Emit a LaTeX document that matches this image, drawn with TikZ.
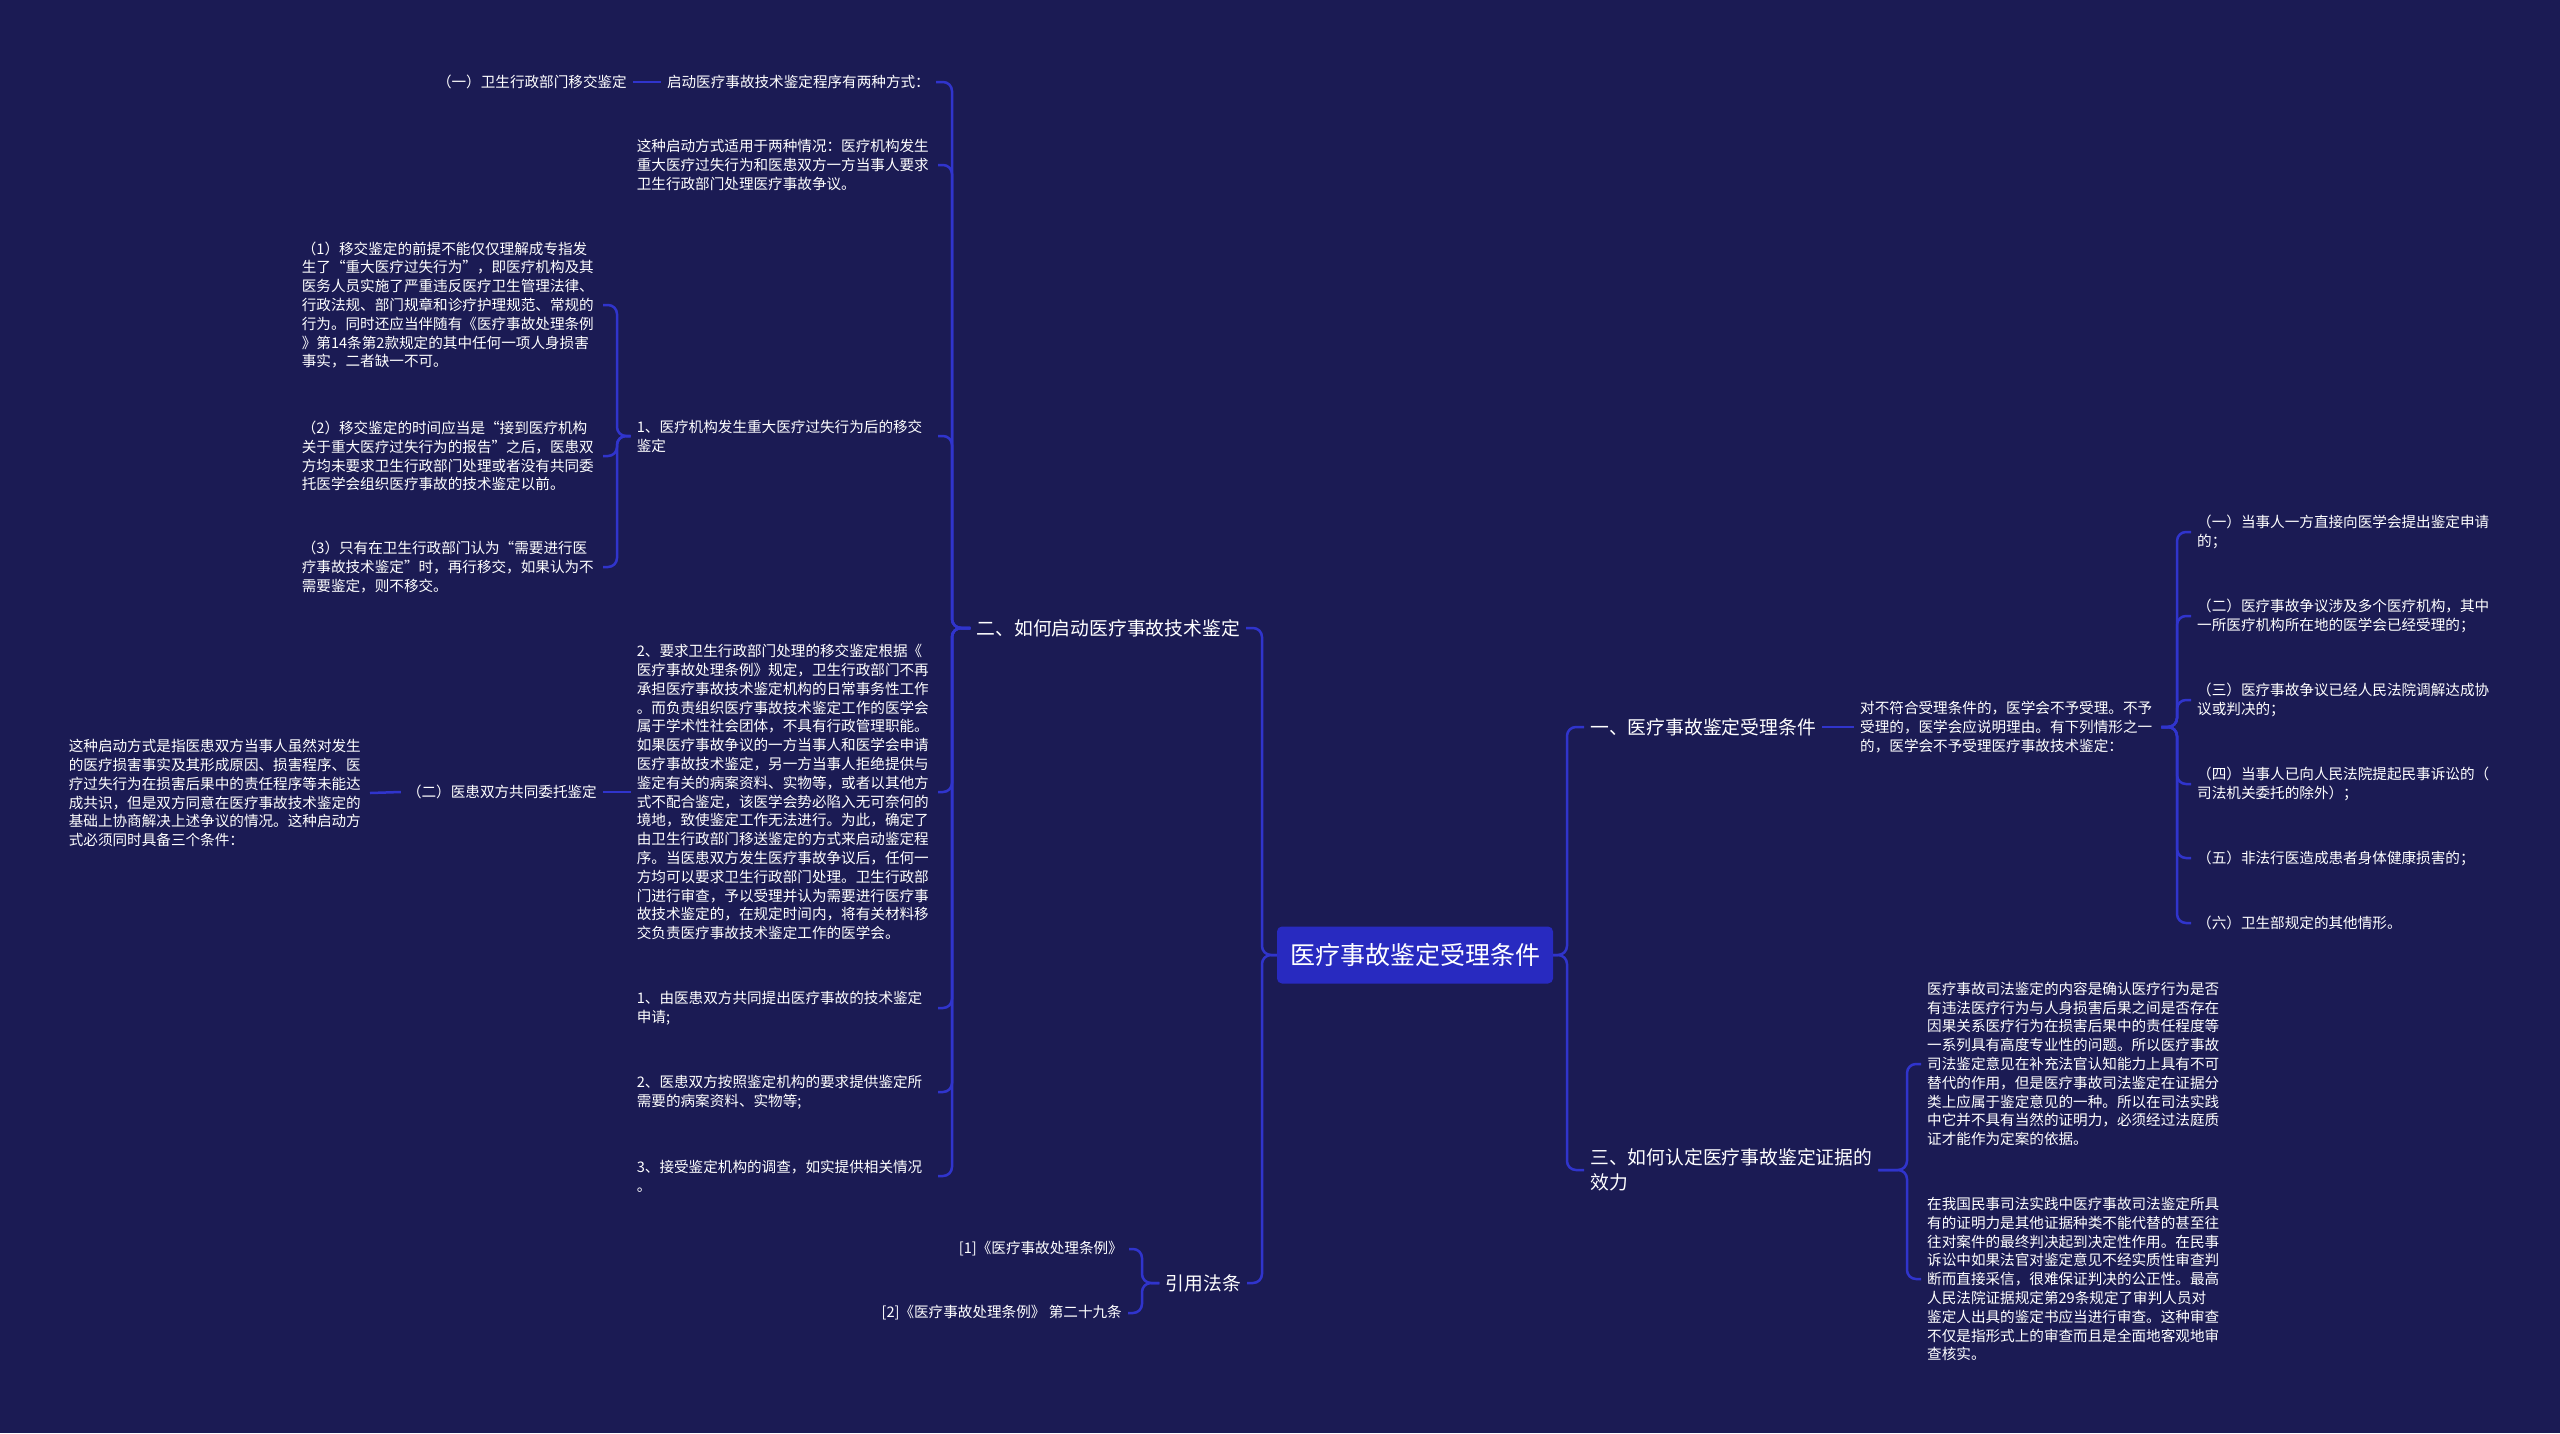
\documentclass[tikz,border=0pt]{standalone}
\usepackage{fontspec}
\setmainfont{Noto Sans CJK SC}
\definecolor{mapbg}{RGB}{27,27,84}
\definecolor{mapblue}{RGB}{40,42,192}
\definecolor{mapline}{RGB}{48,52,204}
\usetikzlibrary{positioning}

\begin{document}
\begin{tikzpicture}[x=1pt, y=-1pt,
    root/.style={rectangle, rounded corners=5pt, fill=mapblue, text=white,
                 minimum width=276pt, minimum height=57pt,
                 font=\fontsize{25}{30}\selectfont},
    topic/.style={rectangle, inner xsep=6pt, inner ysep=2pt, text=white,
                  align=left, font=\fontsize{18.8}{25}\selectfont},
    leaf/.style={rectangle, inner xsep=6pt, inner ysep=2pt, text=white,
                 align=left, font=\fontsize{14.6}{18.8}\selectfont},
    para/.style={leaf, text width=295pt},
    link/.style={draw=mapline, line width=2.5pt, rounded corners=9pt}
  ]
    % Background
    \fill[mapbg] (0,0) rectangle (2560,1433);
    \useasboundingbox (0,0) rectangle (2560,1433);

    % Root
    \node[root] (root) at (1415,955) {医疗事故鉴定受理条件};

    % Right: 一
    \node[topic, anchor=west] (b1) at (1584,727) {一、医疗事故鉴定受理条件};
    \node[para, anchor=west]  (p1) at (1854,727) {对不符合受理条件的，医学会不予受理。不予\\受理的，医学会应说明理由。有下列情形之一\\的，医学会不予受理医疗事故技术鉴定：};
    \node[leaf, anchor=west]  (r1) at (2191,532) {（一）当事人一方直接向医学会提出鉴定申请\\的；};
    \node[leaf, anchor=west]  (r2) at (2191,616) {（二）医疗事故争议涉及多个医疗机构，其中\\一所医疗机构所在地的医学会已经受理的；};
    \node[leaf, anchor=west]  (r3) at (2191,700) {（三）医疗事故争议已经人民法院调解达成协\\议或判决的；};
    \node[leaf, anchor=west]  (r4) at (2191,784) {（四）当事人已向人民法院提起民事诉讼的（\\司法机关委托的除外）；};
    \node[leaf, anchor=west]  (r5) at (2191,858) {（五）非法行医造成患者身体健康损害的；};
    \node[leaf, anchor=west]  (r6) at (2191,923) {（六）卫生部规定的其他情形。};

    % Right: 三
    \node[topic, anchor=west] (b3) at (1584,1170) {三、如何认定医疗事故鉴定证据的\\效力};
    \node[para, anchor=west]  (q1) at (1921,1064) {医疗事故司法鉴定的内容是确认医疗行为是否\\有违法医疗行为与人身损害后果之间是否存在\\因果关系医疗行为在损害后果中的责任程度等\\一系列具有高度专业性的问题。所以医疗事故\\司法鉴定意见在补充法官认知能力上具有不可\\替代的作用，但是医疗事故司法鉴定在证据分\\类上应属于鉴定意见的一种。所以在司法实践\\中它并不具有当然的证明力，必须经过法庭质\\证才能作为定案的依据。};
    \node[para, anchor=west]  (q2) at (1921,1279) {在我国民事司法实践中医疗事故司法鉴定所具\\有的证明力是其他证据种类不能代替的甚至往\\往对案件的最终判决起到决定性作用。在民事\\诉讼中如果法官对鉴定意见不经实质性审查判\\断而直接采信，很难保证判决的公正性。最高\\人民法院证据规定第29条规定了审判人员对\\鉴定人出具的鉴定书应当进行审查。这种审查\\不仅是指形式上的审查而且是全面地客观地审\\查核实。};

    % Left: 二
    \node[topic, anchor=east] (b2) at (1246,628) {二、如何启动医疗事故技术鉴定};
    \node[leaf, anchor=east]  (l1) at (936,82)   {启动医疗事故技术鉴定程序有两种方式：};
    \node[leaf, anchor=east]  (s1) at (633,82)   {（一）卫生行政部门移交鉴定};
    \node[para, anchor=east]  (l2) at (938,165)  {这种启动方式适用于两种情况：医疗机构发生\\重大医疗过失行为和医患双方一方当事人要求\\卫生行政部门处理医疗事故争议。};
    \node[para, anchor=east]  (l3) at (938,436)  {1、医疗机构发生重大医疗过失行为后的移交\\鉴定};
    \node[para, anchor=east]  (t1) at (603,305)  {（1）移交鉴定的前提不能仅仅理解成专指发\\生了“重大医疗过失行为”，即医疗机构及其\\医务人员实施了严重违反医疗卫生管理法律、\\行政法规、部门规章和诊疗护理规范、常规的\\行为。同时还应当伴随有《医疗事故处理条例\\》第14条第2款规定的其中任何一项人身损害\\事实，二者缺一不可。};
    \node[para, anchor=east]  (t2) at (603,456)  {（2）移交鉴定的时间应当是“接到医疗机构\\关于重大医疗过失行为的报告”之后，医患双\\方均未要求卫生行政部门处理或者没有共同委\\托医学会组织医疗事故的技术鉴定以前。};
    \node[para, anchor=east]  (t3) at (603,567)  {（3）只有在卫生行政部门认为“需要进行医\\疗事故技术鉴定”时，再行移交，如果认为不\\需要鉴定，则不移交。};
    \node[para, anchor=east]  (l4) at (938,792)  {2、要求卫生行政部门处理的移交鉴定根据《\\医疗事故处理条例》规定，卫生行政部门不再\\承担医疗事故技术鉴定机构的日常事务性工作\\。而负责组织医疗事故技术鉴定工作的医学会\\属于学术性社会团体，不具有行政管理职能。\\如果医疗事故争议的一方当事人和医学会申请\\医疗事故技术鉴定，另一方当事人拒绝提供与\\鉴定有关的病案资料、实物等，或者以其他方\\式不配合鉴定，该医学会势必陷入无可奈何的\\境地，致使鉴定工作无法进行。为此，确定了\\由卫生行政部门移送鉴定的方式来启动鉴定程\\序。当医患双方发生医疗事故争议后，任何一\\方均可以要求卫生行政部门处理。卫生行政部\\门进行审查，予以受理并认为需要进行医疗事\\故技术鉴定的，在规定时间内，将有关材料移\\交负责医疗事故技术鉴定工作的医学会。};
    \node[leaf, anchor=east]  (s2) at (603,792)  {（二）医患双方共同委托鉴定};
    \node[para, anchor=east]  (u1) at (370,793)  {这种启动方式是指医患双方当事人虽然对发生\\的医疗损害事实及其形成原因、损害程序、医\\疗过失行为在损害后果中的责任程序等未能达\\成共识，但是双方同意在医疗事故技术鉴定的\\基础上协商解决上述争议的情况。这种启动方\\式必须同时具备三个条件：};
    \node[para, anchor=east]  (l5) at (938,1008) {1、由医患双方共同提出医疗事故的技术鉴定\\申请;};
    \node[para, anchor=east]  (l6) at (938,1092) {2、医患双方按照鉴定机构的要求提供鉴定所\\需要的病案资料、实物等;};
    \node[para, anchor=east]  (l7) at (938,1176) {3、接受鉴定机构的调查，如实提供相关情况\\。};

    % Left: 引用法条
    \node[topic, anchor=east] (b4) at (1247,1283) {引用法条};
    \node[leaf, anchor=east]  (v1) at (1129,1249) {[1]《医疗事故处理条例》};
    \node[leaf, anchor=east]  (v2) at (1128,1313) {[2]《医疗事故处理条例》 第二十九条};

    % Bend points
    \coordinate (kR) at (1567,955);
    \coordinate (kL) at (1262,955);
    \coordinate (k1) at (2177,727);
    \coordinate (k3) at (1907,1170);
    \coordinate (k2) at (952,628);
    \coordinate (k4) at (1142,1283);
    \coordinate (kt) at (617,436);

    % Connectors
    \foreach \n in {b1,b3} \draw[link] (root.east) -- (kR) |- (\n.west);
    \foreach \n in {b2,b4} \draw[link] (root.west) -- (kL) |- (\n.east);
    \draw[link] (b1.east) -- (p1.west);
    \foreach \n in {r1,r2,r3,r4,r5,r6} \draw[link] (p1.east) -- (k1) |- (\n.west);
    \foreach \n in {q1,q2} \draw[link] (b3.east) -- (k3) |- (\n.west);
    \foreach \n in {l1,l2,l3,l4,l5,l6,l7} \draw[link] (b2.west) -- (k2) |- (\n.east);
    \foreach \n in {t1,t2,t3} \draw[link] (l3.west) -- (kt) |- (\n.east);
    \draw[link] (l1.west) -- (s1.east);
    \draw[link] (l4.west) -- (s2.east);
    \draw[link] (s2.west) -- (u1.east);
    \foreach \n in {v1,v2} \draw[link] (b4.west) -- (k4) |- (\n.east);
  \end{tikzpicture}
\end{document}
